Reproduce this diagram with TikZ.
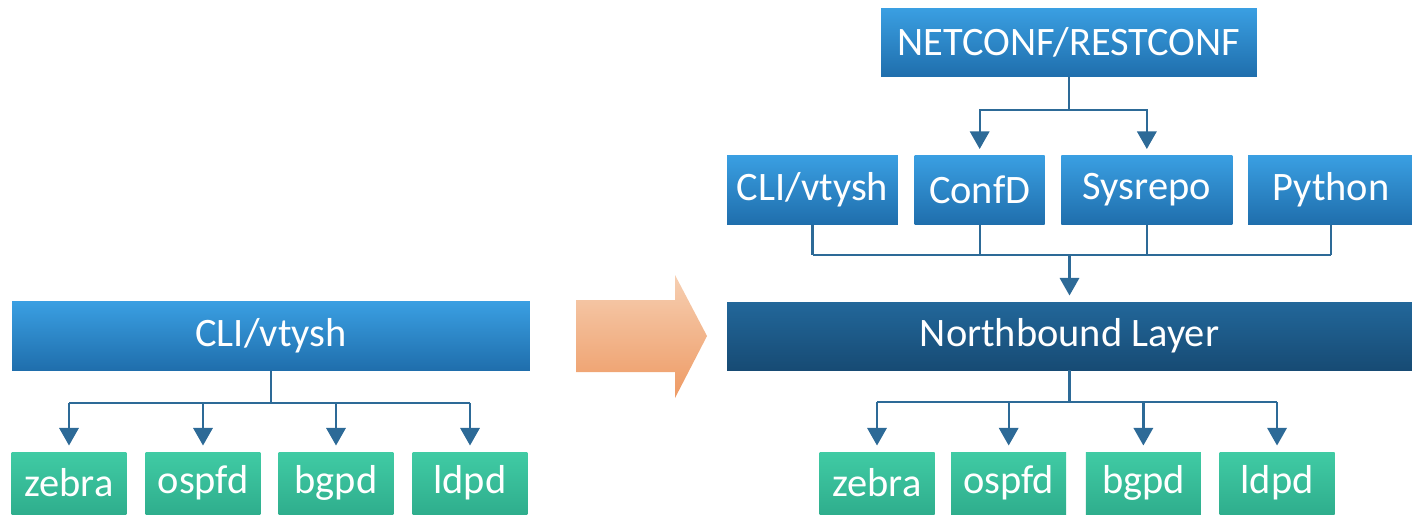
\documentclass[tikz,border=0pt]{standalone}
\usepackage{fontspec}
\setmainfont{Carlito}
\usetikzlibrary{arrows.meta, positioning, calc}

\definecolor{boxtop}{HTML}{3A9FE2}
\definecolor{boxbot}{HTML}{1F6EAC}
\definecolor{nbtop}{HTML}{22679A}
\definecolor{nbbot}{HTML}{174B74}
\definecolor{greentop}{HTML}{40CBA4}
\definecolor{greenbot}{HTML}{2FAE8D}
\definecolor{linkcol}{HTML}{2D6A97}
\definecolor{arrtop}{HTML}{F6CFB2}
\definecolor{arrbot}{HTML}{EE9A64}

\begin{document}
\begin{tikzpicture}[
    x=0.02cm, y=-0.02cm,
    every node/.style={text=white, font=\fontsize{23}{26}\selectfont, inner sep=0pt},
    bluebox/.style={rectangle, top color=boxtop, bottom color=boxbot, minimum height=1.38cm},
    northbox/.style={rectangle, top color=nbtop, bottom color=nbbot, minimum height=1.36cm},
    daemon/.style={rectangle, top color=greentop, bottom color=greenbot, minimum height=1.24cm, minimum width=2.3cm},
    link/.style={draw=linkcol, line width=1.3pt},
    arrow/.style={link, -{Triangle[width=11pt, length=10pt]}, shorten >=3.5pt}
]
\useasboundingbox (0,0) rectangle (1412,514);

% Left side
\node (cli) [bluebox, minimum width=10.36cm] at (271,336) {CLI/vtysh};
\node (zebraL) [daemon] at (69,483) {zebra};
\node (ospfdL) [daemon] at (203,483) {ospfd};
\node (bgpdL) [daemon] at (336,483) {bgpd};
\node (ldpdL) [daemon] at (470,483) {ldpd};

\draw [link] (cli.south) -- ++(0,32) coordinate (cliJ);
\draw [link] (zebraL.north |- cliJ) -- (ldpdL.north |- cliJ);
\draw [arrow] (zebraL.north |- cliJ) -- (zebraL.north);
\draw [arrow] (ospfdL.north |- cliJ) -- (ospfdL.north);
\draw [arrow] (bgpdL.north |- cliJ) -- (bgpdL.north);
\draw [arrow] (ldpdL.north |- cliJ) -- (ldpdL.north);

% Transition arrow
\shade [top color=arrtop, bottom color=arrbot]
    (576,300) -- (675,300) -- (675,275) -- (707,336) -- (675,398) -- (675,372) -- (576,372) -- cycle;

% Right side
\node (netconf) [bluebox, minimum width=7.52cm] at (1069,42.5) {NETCONF/RESTCONF};
\node (cliR) [bluebox, minimum width=3.42cm] at (812.5,190) {CLI/vtysh};
\node (confd) [bluebox, minimum width=2.6cm, right=0.32cm of cliR] {ConfD};
\node (sysrepo) [bluebox, minimum width=3.42cm, right=0.32cm of confd] {Sysrepo};
\node (python) [bluebox, minimum width=3.32cm, right=0.3cm of sysrepo] {Python};
\node (north) [northbox, minimum width=13.7cm] at (1069.5,336) {Northbound Layer};
\node (zebraR) [daemon] at (877,483) {zebra};
\node (ospfdR) [daemon, right=0.32cm of zebraR] {ospfd};
\node (bgpdR) [daemon, right=0.38cm of ospfdR] {bgpd};
\node (ldpdR) [daemon, right=0.36cm of bgpdR] {ldpd};

\draw [link] (netconf.south) -- ++(0,33) coordinate (ncJ);
\draw [arrow] (ncJ) -| (confd.north);
\draw [arrow] (ncJ) -| (sysrepo.north);

\draw [link] (cliR.south) -- ++(0,30) coordinate (midJ);
\draw [link] (confd.south) -- (confd.south |- midJ);
\draw [link] (sysrepo.south) -- (sysrepo.south |- midJ);
\draw [link] (python.south) -- (python.south |- midJ);
\draw [link] (midJ) -- (python.south |- midJ);
\draw [arrow] (north.north |- midJ) -- (north.north);

\draw [link] (north.south) -- ++(0,32) coordinate (nbJ);
\draw [link] (zebraR.north |- nbJ) -- (ldpdR.north |- nbJ);
\draw [arrow] (zebraR.north |- nbJ) -- (zebraR.north);
\draw [arrow] (ospfdR.north |- nbJ) -- (ospfdR.north);
\draw [arrow] (bgpdR.north |- nbJ) -- (bgpdR.north);
\draw [arrow] (ldpdR.north |- nbJ) -- (ldpdR.north);

\end{tikzpicture}
\end{document}
